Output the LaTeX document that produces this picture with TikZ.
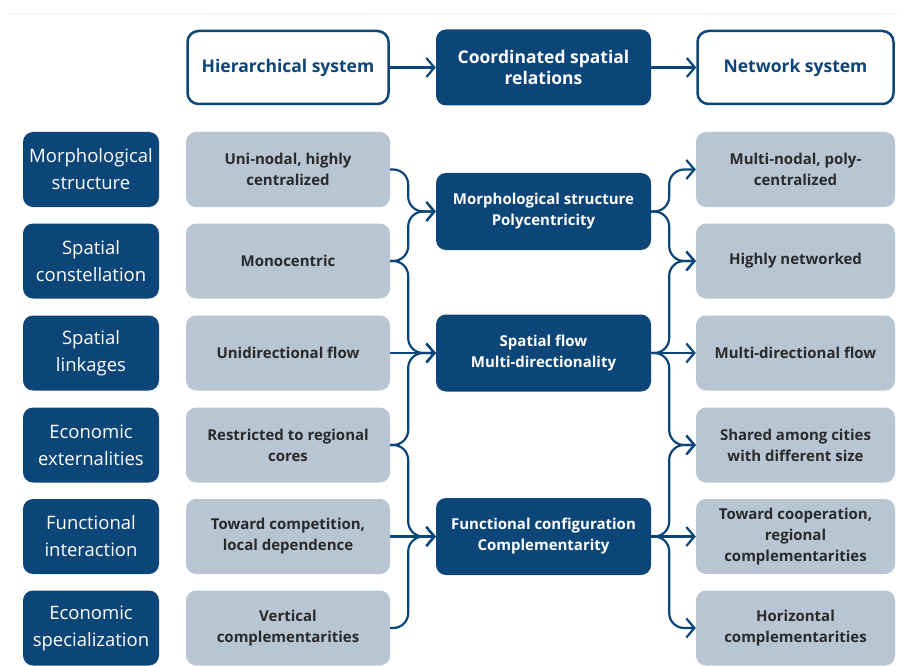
\documentclass[tikz,border=0pt]{standalone}
\usepackage{fontspec}
\setmainfont{Open Sans}
\usetikzlibrary{arrows.meta}
\definecolor{navy}{HTML}{0C4577}
\definecolor{paleblue}{HTML}{B8C5D3}
\definecolor{greytext}{HTML}{2A2A2A}
\begin{document}
\begin{tikzpicture}[x=1pt,y=-1pt,
  catbox/.style={fill=navy, text=white, rounded corners=10pt, minimum width=136pt, minimum height=75pt, align=center, inner sep=0pt, font=\fontsize{18.5}{27}\selectfont},
  greybox/.style={fill=paleblue, text=greytext, rounded corners=10pt, minimum height=75pt, align=center, inner sep=0pt, font=\bfseries\fontsize{15}{21}\selectfont},
  lgrey/.style={greybox, minimum width=204pt},
  rgrey/.style={greybox, minimum width=199pt},
  midbox/.style={fill=navy, text=white, rounded corners=10pt, minimum width=215pt, minimum height=77pt, align=center, inner sep=0pt, font=\bfseries\fontsize{15}{21}\selectfont},
  topfont/.style={font=\bfseries\fontsize{17.5}{21}\selectfont},
  topbox/.style={draw=navy, line width=2.5pt, fill=white, text=navy, rounded corners=11pt, minimum height=73pt, align=center, inner sep=0pt, topfont},
  conn/.style={draw=navy, line width=2.2pt, rounded corners=15pt, -{Straight Barb[length=8pt,width=19pt]}}
]
\useasboundingbox (0,0) rectangle (897,666);
\draw[gray!12, line width=1pt] (5,14) -- (897,14);

% top row
\node[topbox, minimum width=201pt] (hier) at (288,67.5) {Hierarchical system};
\node[midbox, minimum height=76pt, topfont] (coord) at (543.5,67.5) {Coordinated spatial\\relations};
\node[topbox, minimum width=196pt] (net) at (795.5,67.5) {Network system};
\draw[conn] (hier.east) -- (coord.west);
\draw[conn] (coord.east) -- (net.west);

% left categories
\node[catbox] (k1) at (91,169.5) {Morphological\\structure};
\node[catbox] (k2) at (91,261) {Spatial\\constellation};
\node[catbox] (k3) at (91,353) {Spatial\\linkages};
\node[catbox] (k4) at (91,445) {Economic\\externalities};
\node[catbox] (k5) at (91,536.5) {Functional\\interaction};
\node[catbox] (k6) at (91,628) {Economic\\specialization};

% hierarchical features
\node[lgrey] (u1) at (288,169.5) {Uni-nodal, highly\\centralized};
\node[lgrey] (u2) at (288,261) {Monocentric};
\node[lgrey] (u3) at (288,353) {Unidirectional flow};
\node[lgrey] (u4) at (288,445) {Restricted to regional\\cores};
\node[lgrey] (u5) at (288,536.5) {Toward competition,\\local dependence};
\node[lgrey] (u6) at (288,628) {Vertical\\complementarities};

% middle
\node[midbox] (c1) at (543.5,211.5) {Morphological structure\\Polycentricity};
\node[midbox] (c2) at (543.5,353) {Spatial flow\\Multi-directionality};
\node[midbox] (c3) at (543.5,536.5) {Functional configuration\\Complementarity};

% network features
\node[rgrey] (r1) at (795.5,169.5) {Multi-nodal, poly-\\centralized};
\node[rgrey] (r2) at (795.5,261) {Highly networked};
\node[rgrey] (r3) at (795.5,353) {Multi-directional flow};
\node[rgrey] (r4) at (795.5,445) {Shared among cities\\with different size};
\node[rgrey] (r5) at (795.5,536.5) {Toward cooperation,\\regional\\complementarities};
\node[rgrey] (r6) at (795.5,628) {Horizontal\\complementarities};

% left connectors
\draw[conn] (u1.east) -- ++(18,0) |- (c1.west);
\draw[conn] (u2.east) -- ++(18,0) |- (c1.west);
\draw[conn] (u2.east) -- ++(18,0) |- (c2.west);
\draw[conn] (u3.east) -- (c2.west);
\draw[conn] (u4.east) -- ++(18,0) |- (c2.west);
\draw[conn] (u4.east) -- ++(18,0) |- (c3.west);
\draw[conn] (u5.east) -- (c3.west);
\draw[conn] (u6.east) -- ++(18,0) |- (c3.west);

% right connectors
\draw[conn] (c1.east) -- ++(18,0) |- (r1.west);
\draw[conn] (c1.east) -- ++(18,0) |- (r2.west);
\draw[conn] (c2.east) -- ++(18,0) |- (r2.west);
\draw[conn] (c2.east) -- (r3.west);
\draw[conn] (c2.east) -- ++(18,0) |- (r4.west);
\draw[conn] (c3.east) -- ++(18,0) |- (r4.west);
\draw[conn] (c3.east) -- (r5.west);
\draw[conn] (c3.east) -- ++(18,0) |- (r6.west);
\end{tikzpicture}
\end{document}
